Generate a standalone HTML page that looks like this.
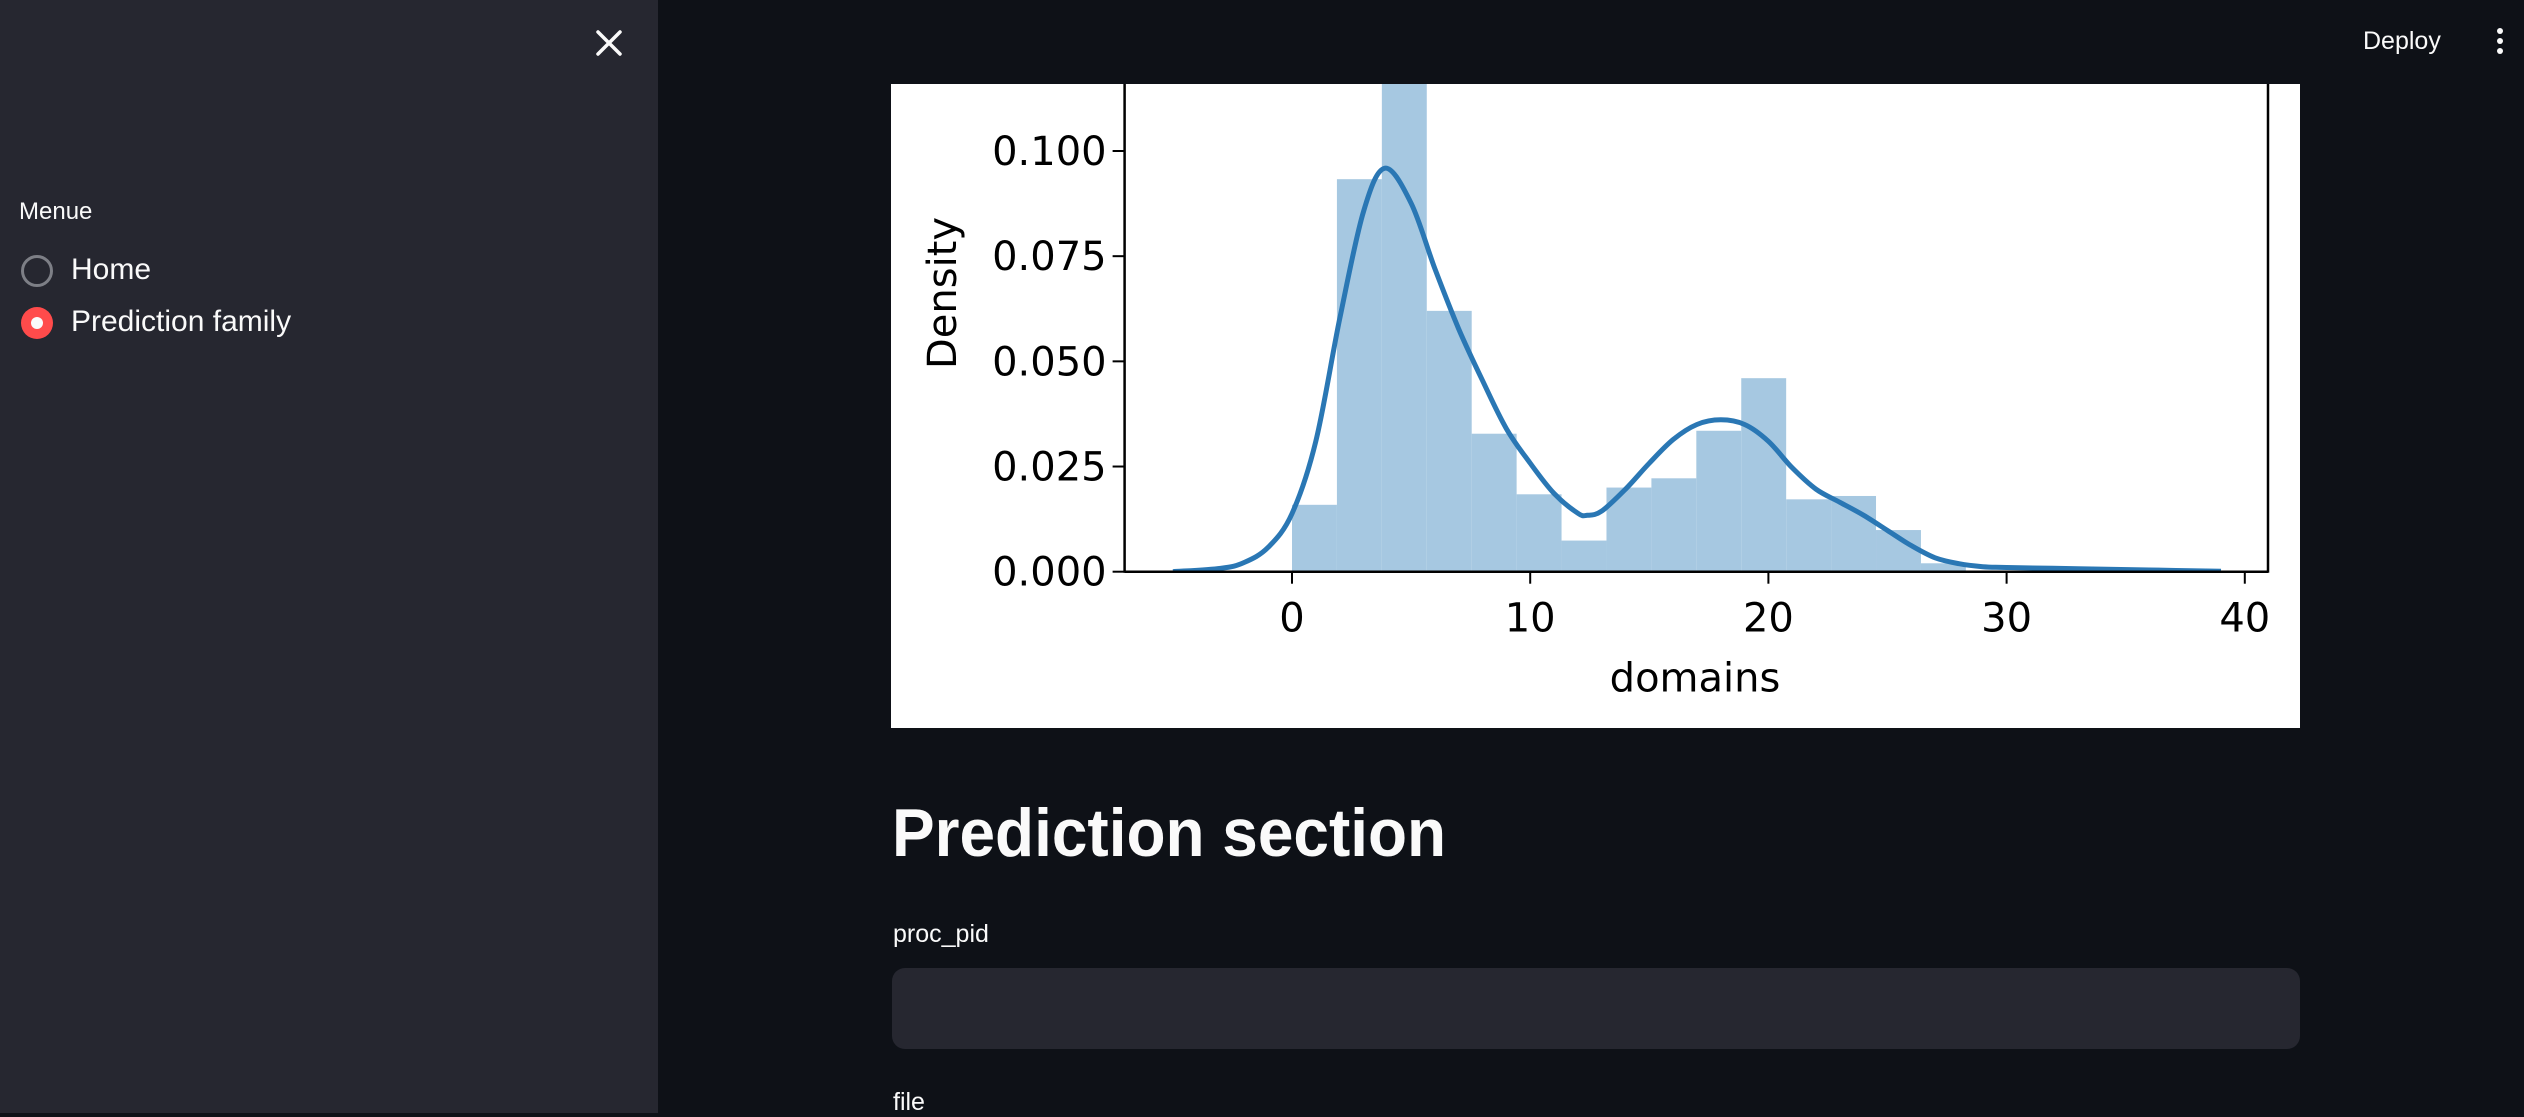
<!DOCTYPE html>
<html><head><meta charset="utf-8"><style>
*{margin:0;padding:0;box-sizing:border-box}
body{width:2524px;height:1113px;background:#0e1117;position:relative;overflow:hidden;font-family:"Liberation Sans",sans-serif;color:#fafafa}
.abs{position:absolute}
</style></head><body>
<div class="abs" style="left:0;top:0;width:658px;height:1113px;background:#262730"></div>
<div class="abs" style="left:592px;top:26px;width:34px;height:34px">
<svg width="34" height="34"><path d="M6 6L28 28M28 6L6 28" stroke="#fafafa" stroke-width="3.5" stroke-linecap="round"/></svg></div>
<div class="abs" style="left:19px;top:198px;font-size:24px">Menue</div>
<div class="abs" style="left:21px;top:255px;width:32px;height:32px;border:3px solid #7d7f86;border-radius:50%"></div>
<div class="abs" style="left:71px;top:253px;font-size:30px">Home</div>
<div class="abs" style="left:21px;top:307px;width:32px;height:32px;background:#ff4b4b;border-radius:50%"><div style="position:absolute;left:10px;top:10px;width:12px;height:12px;background:#fafafa;border-radius:50%"></div></div>
<div class="abs" style="left:71px;top:305px;font-size:30px">Prediction family</div>
<div class="abs" style="left:2363px;top:27px;font-size:25px">Deploy</div>
<div class="abs" style="left:2495px;top:27px;width:10px;height:30px">
<svg width="10" height="30"><circle cx="5" cy="4" r="3" fill="#fafafa"/><circle cx="5" cy="14" r="3" fill="#fafafa"/><circle cx="5" cy="24" r="3" fill="#fafafa"/></svg></div>

<svg class="abs" style="left:891px;top:84px" width="1409" height="644" id="chart"></svg>

<div class="abs" style="left:892px;top:794px;font-size:68px;font-weight:bold;white-space:nowrap;transform:scaleX(0.94);transform-origin:left top">Prediction section</div>
<div class="abs" style="left:893px;top:920px;font-size:25px">proc_pid</div>
<div class="abs" style="left:892px;top:968px;width:1408px;height:81px;background:#262730;border-radius:13px"></div>
<div class="abs" style="left:893px;top:1088px;font-size:25px">file</div>

<script>
const binEdges0 = 0, binWidth = 1.886;
const binHeights = [0.0159,0.0933,0.135,0.062,0.0328,0.0184,0.0074,0.020,0.0222,0.0335,0.046,0.0172,0.018,0.0099,0.002];
const kdeX = [-5,-3,-2,-1,0,1,2,3,3.9,5,6,7,8,9,10,11,12,12.4,13,14,15,16,17,18,19,20,21,22,23,24,25,26,27,28,29,30,33,36,39];
const kdeY = [0,0.0008,0.0022,0.0058,0.0138,0.031,0.060,0.0856,0.0959,0.0876,0.072,0.0577,0.0454,0.034,0.0258,0.0186,0.0139,0.0134,0.0144,0.0196,0.0258,0.0314,0.035,0.0361,0.035,0.031,0.0247,0.0196,0.0165,0.0134,0.0098,0.0062,0.0033,0.0019,0.0012,0.001,0.0007,0.0004,0.0001];
const xTicks = [0,10,20,30,40];
const yTicks = [0,0.025,0.05,0.075,0.1];
const yTickLabels = ["0.000","0.025","0.050","0.075","0.100"];

const NS="http://www.w3.org/2000/svg";
const svg=document.getElementById('chart');
const X=v=>1292-891+v*23.82;
const Y=v=>571.7-84-v*4207;
function el(t,a){const e=document.createElementNS(NS,t);for(const k in a)e.setAttribute(k,a[k]);svg.appendChild(e);return e;}
el('rect',{x:0,y:0,width:1409,height:644,fill:'#ffffff'});
const left=1124.6-891,right=2268-891,bottom=Y(0);
const cp=el('clipPath',{id:'cp'});
const cr=document.createElementNS(NS,'rect');cr.setAttribute('x',left);cr.setAttribute('y',0);cr.setAttribute('width',right-left);cr.setAttribute('height',bottom);cp.appendChild(cr);
const g=el('g',{'clip-path':'url(#cp)'});
binHeights.forEach((h,i)=>{
  const x0=X(binEdges0+i*binWidth),x1=X(binEdges0+(i+1)*binWidth);
  const r=document.createElementNS(NS,'rect');
  r.setAttribute('x',x0);r.setAttribute('y',Y(h));r.setAttribute('width',x1-x0);r.setAttribute('height',bottom-Y(h));
  r.setAttribute('fill','#a6c8e1');
  
  
  g.appendChild(r);
});
const pts=kdeX.map((x,i)=>[X(x),Y(kdeY[i])]);
let d='M'+pts[0][0].toFixed(1)+' '+pts[0][1].toFixed(1);
for(let i=0;i<pts.length-1;i++){
  const p0=pts[Math.max(0,i-1)],p1=pts[i],p2=pts[i+1],p3=pts[Math.min(pts.length-1,i+2)];
  const c1=[p1[0]+(p2[0]-p0[0])/6,p1[1]+(p2[1]-p0[1])/6];
  const c2=[p2[0]-(p3[0]-p1[0])/6,p2[1]-(p3[1]-p1[1])/6];
  d+=`C${c1[0].toFixed(1)} ${c1[1].toFixed(1)} ${c2[0].toFixed(1)} ${c2[1].toFixed(1)} ${p2[0].toFixed(1)} ${p2[1].toFixed(1)}`;
}
const p=document.createElementNS(NS,'path');
p.setAttribute('d',d);
p.setAttribute('fill','none');p.setAttribute('stroke','#2a77b4');p.setAttribute('stroke-width','5');p.setAttribute('stroke-linejoin','round');


g.appendChild(p);
el('line',{x1:left,y1:0,x2:left,y2:bottom+1,stroke:'#000','stroke-width':2.5});
el('line',{x1:right,y1:0,x2:right,y2:bottom+1,stroke:'#000','stroke-width':2.5});
el('line',{x1:left,y1:bottom,x2:right,y2:bottom,stroke:'#000','stroke-width':2.5});
xTicks.forEach(t=>{
  el('line',{x1:X(t),y1:bottom,x2:X(t),y2:bottom+12,stroke:'#000','stroke-width':2});
  const tx=el('text',{x:X(t),y:bottom+60,'text-anchor':'middle','font-size':40,'font-family':'DejaVu Sans, sans-serif',fill:'#000'});
  tx.textContent=t;
  
});
yTicks.forEach((t,i)=>{
  el('line',{x1:left-12,y1:Y(t),x2:left,y2:Y(t),stroke:'#000','stroke-width':2});
  const tx=el('text',{x:left-18,y:Y(t)+14,'text-anchor':'end','font-size':40,'font-family':'DejaVu Sans, sans-serif',fill:'#000'});
  tx.textContent=yTickLabels[i];
  
});
const xl=el('text',{x:1695-891,y:bottom+120,'text-anchor':'middle','font-size':40,'font-family':'DejaVu Sans, sans-serif',fill:'#000'});
xl.textContent='domains';

const yl=el('text',{x:0,y:0,'text-anchor':'middle','font-size':40,'font-family':'DejaVu Sans, sans-serif',fill:'#000',transform:`translate(${956-891},${293-84}) rotate(-90)`});
yl.textContent='Density';

</script>
</body></html>
